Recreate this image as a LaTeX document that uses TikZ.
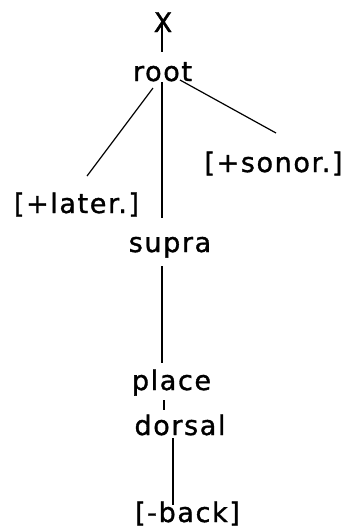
\documentclass[tikz,border=0pt]{standalone}
\usepackage{fontspec}
\setmainfont{DejaVu Sans}[LetterSpace=6,FakeBold=1.2]
\begin{document}
\begin{tikzpicture}[x=1pt,y=-1pt,
  lbl/.style={anchor=base,inner sep=0pt,font=\fontsize{27}{30}\selectfont},
  edge/.style={line width=1.2pt}]
\useasboundingbox (0,0) rectangle (351,531);
\node[lbl] (x) at (163,32) {X};
\node[lbl] (root) at (162.5,81) {root};
\node[lbl] (sonor) at (273.5,172) {[+sonor.]};
\node[lbl] (later) at (76.5,213) {[+later.]};
\node[lbl] (supra) at (170,252) {supra};
\node[lbl] (place) at (171.5,390) {place};
\node[lbl] (dorsal) at (180,435) {dorsal};
\node[lbl] (back) at (187.5,522) {[-back]};
\coordinate (x1) at (162,24);
\coordinate (x2) at (162,52);
\coordinate (rl) at (153,88);
\coordinate (ll) at (87,176);
\coordinate (rv) at (162,82);
\coordinate (sv) at (162,218);
\coordinate (rr) at (180,80);
\coordinate (sr) at (276,133);
\coordinate (su) at (162,266);
\coordinate (pl) at (162,363);
\coordinate (pd1) at (164,400);
\coordinate (pd2) at (164,410);
\coordinate (db1) at (173,438);
\coordinate (db2) at (173,505);
\draw[edge] (x1) -- (x2);
\draw[edge] (rl) -- (ll);
\draw[edge] (rv) -- (sv);
\draw[edge] (rr) -- (sr);
\draw[edge] (su) -- (pl);
\draw[edge] (pd1) -- (pd2);
\draw[edge] (db1) -- (db2);
\end{tikzpicture}
\end{document}
